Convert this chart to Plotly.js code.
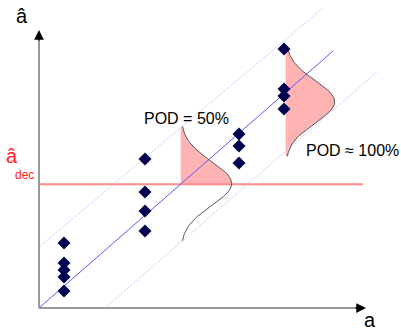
<!DOCTYPE html>
<html>
<head>
<meta charset="utf-8">
<script src="https://cdn.plot.ly/plotly-3.0.1.min.js"></script>
<style>html,body{margin:0;padding:0;background:#fff;}#chart{width:401px;height:333px;}</style>
</head>
<body>
<div id="chart"></div>
<script>
const clusterA = [25, 106, 200, 245];
const cluster1 = [65, 45, 38, 31, 17];
const cluster2 = [149, 116, 97, 77];
const cluster3 = [174, 162, 145];
const cluster4 = [259, 219, 212, 199];

// Fitted line and bounds (end points)
const fitX = [0, 294];
const fitY = [0, 257];
const upperX = [0, 284];
const upperY = [61, 300];
const lowerX = [66, 338];
const lowerY = [0, 236];

// Decision threshold
const aDec = 123.7;
const aDecRange = [0, 324];

// Gaussian scatter densities: base a, mean â, sigma, amplitude
const gaussBase = [141.7, 246.7];
const gaussMean = [124.5, 206.3];
const gaussSigma = [22, 21];
const gaussAmp = [51, 49];

const ptsX = [], ptsY = [];
[cluster1, cluster2, cluster3, cluster4].forEach((c, i) => {
  c.forEach(v => { ptsX.push(clusterA[i]); ptsY.push(v); });
});

function curve(i, yLo, yHi) {
  const xs = [], ys = [];
  const n = 80;
  for (let k = 0; k <= n; k++) {
    const y = yHi - (yHi - yLo) * k / n;
    const z = (y - gaussMean[i]) / gaussSigma[i];
    xs.push(gaussBase[i] + gaussAmp[i] * Math.exp(-z * z / 2));
    ys.push(y);
  }
  return [xs, ys];
}

const traces = [];
const fillCol = '#ffb3b3';
for (let i = 0; i < 2; i++) {
  const top = gaussMean[i] + 2.6 * gaussSigma[i];
  const bot = gaussMean[i] - 2.6 * gaussSigma[i];
  const fLo = i === 0 ? aDec : bot;
  const [fx, fy] = curve(i, fLo, top);
  traces.push({
    x: [gaussBase[i]].concat(fx, [gaussBase[i]]),
    y: [top].concat(fy, [fLo]),
    mode: 'lines', fill: 'toself', fillcolor: fillCol,
    line: {width: 0, color: fillCol}, hoverinfo: 'skip'
  });
}
traces.push({x: upperX, y: upperY, mode: 'lines', line: {color: '#dcdcff', width: 1}});
traces.push({x: lowerX, y: lowerY, mode: 'lines', line: {color: '#dcdcff', width: 1}});
traces.push({x: aDecRange, y: [aDec, aDec], mode: 'lines', line: {color: '#ff8c8c', width: 2}});
traces.push({x: fitX, y: fitY, mode: 'lines', line: {color: '#5a5aff', width: 1}});
for (let i = 0; i < 2; i++) {
  const top = gaussMean[i] + 2.6 * gaussSigma[i];
  const bot = gaussMean[i] - 2.6 * gaussSigma[i];
  const [cx, cy] = curve(i, bot, top);
  traces.push({x: cx, y: cy, mode: 'lines', line: {color: '#555555', width: 1}});
}
traces.push({
  x: ptsX, y: ptsY, mode: 'markers',
  marker: {symbol: 'diamond', size: 10, color: '#00004d'}
});

const F = 'Liberation Sans, Arial, sans-serif';
const ML = 30, MB = 15, W = 401, H = 333;
const pw = W - ML, ph = H - MB;
function px(x) { return (x - ML) / pw; }
function py(y) { return (ph - y) / ph; }
function lbl(x, y, text, size, color) {
  return {x: px(x), y: py(y), xref: 'paper', yref: 'paper', xanchor: 'center', yanchor: 'middle',
          text: text, showarrow: false, font: {family: F, size: size, color: color}};
}
const layout = {
  width: W, height: H,
  margin: {l: ML, r: 0, t: 0, b: MB, pad: 0},
  paper_bgcolor: '#fff', plot_bgcolor: '#fff',
  showlegend: false,
  xaxis: {range: [-9, 362], visible: false, fixedrange: true},
  yaxis: {range: [-10, 308], visible: false, fixedrange: true},
  shapes: [
    {type: 'line', xref: 'x', yref: 'y', x0: 0, y0: 0, x1: 0, y1: 272, line: {color: '#999', width: 2}},
    {type: 'line', xref: 'x', yref: 'y', x0: 0, y0: 0, x1: 321, y1: 0, line: {color: '#999', width: 2}}
  ],
  annotations: [
    {x: 0, y: 278, ax: 0, ay: 266, xref: 'x', yref: 'y', axref: 'x', ayref: 'y', text: '', showarrow: true, arrowhead: 2, arrowsize: 1.3, arrowwidth: 1.5, arrowcolor: '#000', standoff: 0},
    {x: 327, y: 0, ax: 315, ay: 0, xref: 'x', yref: 'y', axref: 'x', ayref: 'y', text: '', showarrow: true, arrowhead: 2, arrowsize: 1.3, arrowwidth: 1.5, arrowcolor: '#000', standoff: 0},
    lbl(22, 16, 'â', 20, '#000'),
    lbl(370, 320, 'a', 20, '#000'),
    lbl(12, 156, 'â', 20, '#ff2222'),
    lbl(24, 175, 'dec', 12, '#ff2222'),
    lbl(186, 118, 'POD = 50%', 16, '#000'),
    lbl(352, 150, 'POD ≈ 100%', 16, '#000')
  ]
};
Plotly.newPlot('chart', traces, layout, {displayModeBar: false, staticPlot: true});
</script>
</body>
</html>
